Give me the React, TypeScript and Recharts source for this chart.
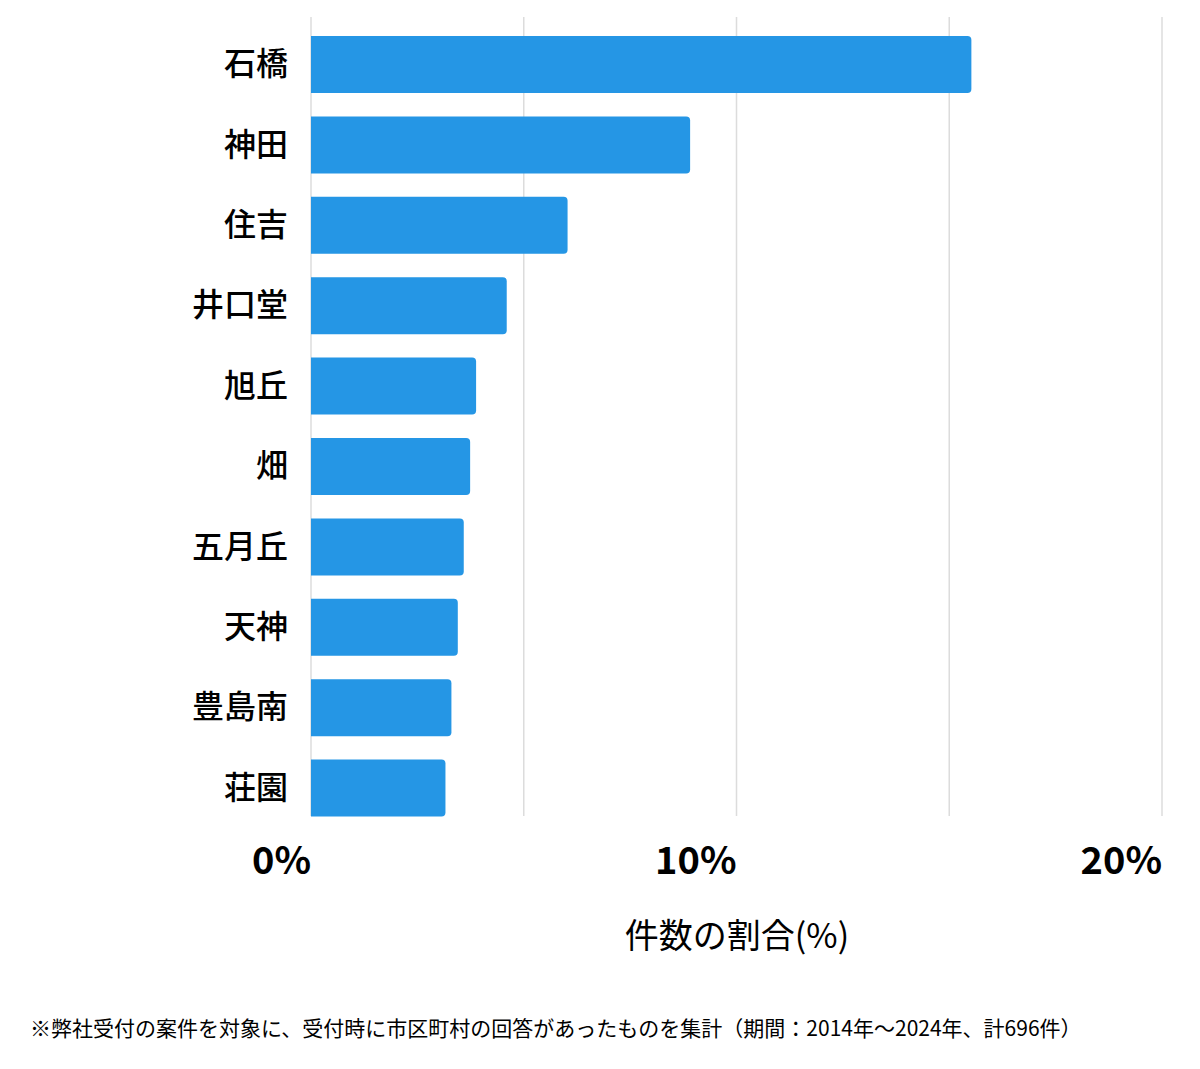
import { BarChart, Bar, XAxis, YAxis, CartesianGrid } from 'recharts'

// ── データ ─────────────────────────────────────────────
const areas = ['石橋', '神田', '住吉', '井口堂', '旭丘', '畑', '五月丘', '天神', '豊島南', '荘園']
const shares = [15.52, 8.91, 6.03, 4.6, 3.88, 3.74, 3.59, 3.45, 3.3, 3.16]
const gridTicks = [0, 5, 10, 15, 20]
const labeledTicks = [0, 10, 20]

const data = areas.map((name, i) => ({ name, value: shares[i] }))

const FONT = '"Noto Sans CJK JP", "Noto Sans", sans-serif'
const BAR_COLOR = '#2596e5'

function XTick({ x, y, payload }: any) {
  if (!labeledTicks.includes(payload.value)) return null
  return (
    <text
      x={x}
      y={y + 38}
      textAnchor="end"
      fontFamily={FONT}
      fontSize={38}
      fontWeight={700}
      fill="#000"
    >
      {payload.value}%
    </text>
  )
}

function YTick({ x, y, payload }: any) {
  return (
    <text
      x={x}
      y={y}
      dy={11}
      textAnchor="end"
      fontFamily={FONT}
      fontSize={32}
      fontWeight={500}
      fill="#000"
    >
      {payload.value}
    </text>
  )
}

export default function App() {
  return (
    <div style={{ position: 'absolute', left: 0, top: 0, width: 1200, height: 1069, background: '#fff' }}>
      <BarChart
        width={1200}
        height={960}
        data={data}
        layout="vertical"
        margin={{ top: 24, right: 38, bottom: 0, left: 0 }}
        barSize={57}
      >
        <CartesianGrid horizontal={false} stroke="#dcdcdc" strokeWidth={1.5} y={17} height={799} />
        <XAxis
          type="number"
          domain={[0, 20]}
          ticks={gridTicks}
          axisLine={false}
          tickLine={false}
          tick={<XTick />}
          height={132}
          interval={0}
        />
        <YAxis
          type="category"
          dataKey="name"
          width={311}
          axisLine={false}
          tickLine={false}
          tickSize={0}
          tickMargin={23}
          tick={<YTick />}
        />
        <Bar dataKey="value" fill={BAR_COLOR} radius={[0, 4, 4, 0]} isAnimationActive={false} />
      </BarChart>
      <div
        style={{
          position: 'absolute',
          left: 0,
          width: 1200 + 274,
          top: 909,
          textAlign: 'center',
          fontFamily: FONT,
          fontSize: 34,
          color: '#000',
          lineHeight: '50px',
        }}
      >
        件数の割合(%)
      </div>
      <div
        style={{
          position: 'absolute',
          left: 30,
          top: 1012,
          fontFamily: FONT,
          fontSize: 21,
          color: '#000',
          whiteSpace: 'nowrap',
          lineHeight: '30px',
        }}
      >
        ※弊社受付の案件を対象に、受付時に市区町村の回答があったものを集計（期間：2014年〜2024年、計696件）
      </div>
    </div>
  )
}
